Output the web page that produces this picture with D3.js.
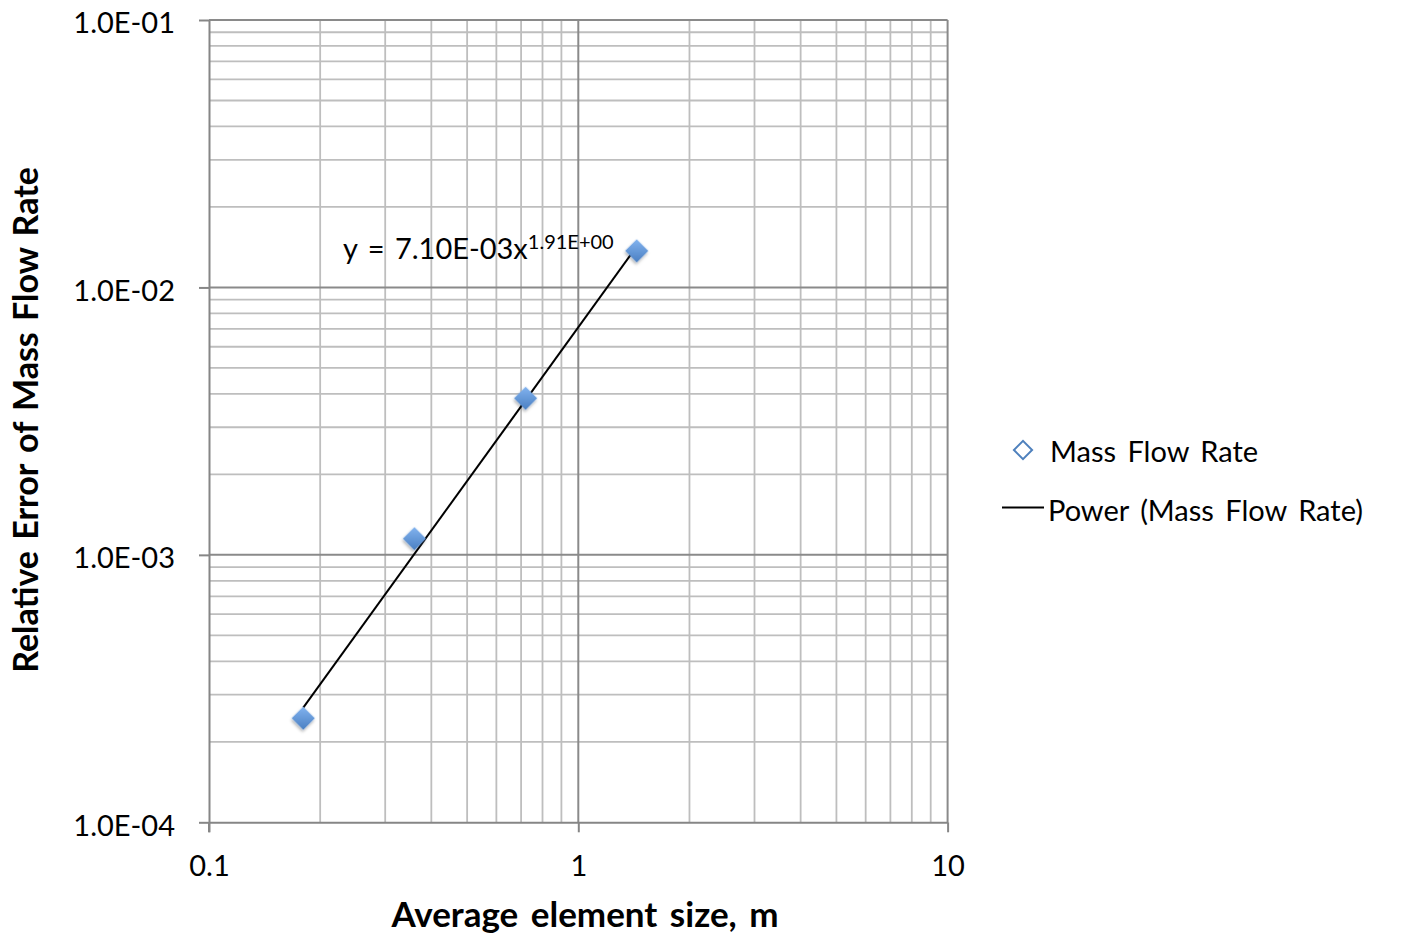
<!DOCTYPE html>
<html>
<head>
<meta charset="utf-8">
<script src="https://cdn.jsdelivr.net/npm/d3@7"></script>
<style>
  html, body { margin: 0; padding: 0; background: #ffffff; }
  svg { display: block; }
  text { font-family: Lato, "Open Sans", sans-serif; fill: #000; }
</style>
</head>
<body>
<svg id="chart" width="1405" height="937"></svg>
<script>
// ---- data ----
const elementSize = [0.18, 0.36, 0.72, 1.44];
const massFlowError = [2.45e-4, 1.15e-3, 3.85e-3, 1.37e-2];
const xTickValues = [0.1, 1, 10];
const xTickLabels = ["0.1", "1", "10"];
const yTickValues = [1e-4, 1e-3, 1e-2, 1e-1];
const yTickLabels = ["1.0E-04", "1.0E-03", "1.0E-02", "1.0E-01"];
const trendCoef = 7.10e-3;
const trendExp = 1.91;
const seriesName = "Mass Flow Rate";
const trendName = "Power (Mass Flow Rate)";
const xTitle = "Average element size, m";
const yTitle = "Relative Error of Mass Flow Rate";
const eqMain = "y = 7.10E-03x";
const eqSup = "1.91E+00";

// ---- layout ----
const svg = d3.select("#chart");
const L = 209, R = 947.6, T = 20, B = 822.3;
const x = d3.scaleLog().domain([0.1, 10]).range([L, R]);
const y = d3.scaleLog().domain([1e-4, 1e-1]).range([B, T]);

const defs = svg.append("defs");
const grad = defs.append("linearGradient").attr("id", "mk")
  .attr("x1", 0).attr("y1", 0).attr("x2", 1).attr("y2", 1);
grad.append("stop").attr("offset", "0%").attr("stop-color", "#82b3ef");
grad.append("stop").attr("offset", "100%").attr("stop-color", "#4a7fc2");
const flt = defs.append("filter").attr("id", "sh").attr("x", "-50%").attr("y", "-50%").attr("width", "200%").attr("height", "200%");
flt.append("feDropShadow").attr("dx", 1).attr("dy", 2).attr("stdDeviation", 1.5)
  .attr("flood-color", "#000").attr("flood-opacity", 0.3);

// minor gridlines
const minorX = [], minorY = [];
[0.1, 1].forEach(d => { for (let k = 2; k <= 9; k++) minorX.push(d * k); });
[1e-4, 1e-3, 1e-2].forEach(d => { for (let k = 2; k <= 9; k++) minorY.push(d * k); });

const grid = svg.append("g");
grid.selectAll(".mx").data(minorX).join("line")
  .attr("x1", d => x(d)).attr("x2", d => x(d)).attr("y1", T).attr("y2", B)
  .attr("stroke", "#bebebe").attr("stroke-width", 1.8);
grid.selectAll(".my").data(minorY).join("line")
  .attr("x1", L).attr("x2", R).attr("y1", d => y(d)).attr("y2", d => y(d))
  .attr("stroke", "#bebebe").attr("stroke-width", 1.8);
// major gridlines
grid.selectAll(".Mx").data([1, 10]).join("line")
  .attr("x1", d => x(d)).attr("x2", d => x(d)).attr("y1", T).attr("y2", B)
  .attr("stroke", "#8a8a8a").attr("stroke-width", 2);
grid.selectAll(".My").data([1e-3, 1e-2, 1e-1]).join("line")
  .attr("x1", L).attr("x2", R).attr("y1", d => y(d)).attr("y2", d => y(d))
  .attr("stroke", "#8a8a8a").attr("stroke-width", 2);

// axes
const xAxis = d3.axisBottom(x).tickValues(xTickValues)
  .tickFormat((d, i) => xTickLabels[i]).tickSize(10).tickSizeOuter(0);
const gx = svg.append("g").attr("transform", `translate(0,${B})`).call(xAxis);
gx.select(".domain").attr("stroke", "#868686").attr("stroke-width", 2);
gx.selectAll(".tick line").attr("stroke", "#868686").attr("stroke-width", 2);
gx.selectAll(".tick text").attr("y", 54).attr("dy", 0)
  .attr("font-size", 29).attr("font-family", "Lato").attr("fill", "#000");

const yAxis = d3.axisLeft(y).tickValues(yTickValues)
  .tickFormat((d, i) => yTickLabels[i]).tickSize(10).tickSizeOuter(0).tickPadding(24);
const gy = svg.append("g").attr("transform", `translate(${L},0)`).call(yAxis);
gy.select(".domain").attr("stroke", "#868686").attr("stroke-width", 2);
gy.selectAll(".tick line").attr("stroke", "#868686").attr("stroke-width", 2);
gy.selectAll(".tick text").attr("dy", "0.44em")
  .attr("font-size", 29).attr("font-family", "Lato").attr("fill", "#000");
// extend y axis line down to x tick length
svg.append("line").attr("x1", L).attr("x2", L).attr("y1", B).attr("y2", B + 10)
  .attr("stroke", "#868686").attr("stroke-width", 2);

// trend line (power fit y = a x^b)
const trendX = [d3.min(elementSize), d3.max(elementSize)];
svg.append("path")
  .datum(trendX)
  .attr("d", d3.line().x(d => x(d)).y(d => y(trendCoef * Math.pow(d, trendExp))))
  .attr("fill", "none").attr("stroke", "#000").attr("stroke-width", 2);

// markers
const diamond = d3.symbol(d3.symbolSquare, 270);
svg.append("g").selectAll("path").data(elementSize).join("path")
  .attr("d", diamond)
  .attr("transform", (d, i) => `translate(${x(d)},${y(massFlowError[i])}) rotate(45)`)
  .attr("fill", "url(#mk)").attr("filter", "url(#sh)");

// equation label
const eq = svg.append("text").attr("x", 343).attr("y", 259).attr("font-size", 29)
  .attr("word-spacing", 3);
eq.append("tspan").text(eqMain);
eq.append("tspan").attr("font-size", 20).attr("dy", -10).text(eqSup);

// legend
svg.append("path").attr("d", d3.symbol(d3.symbolSquare, 165))
  .attr("transform", "translate(1023,450) rotate(45)")
  .attr("fill", "#fff").attr("stroke", "#4f81bd").attr("stroke-width", 2);
svg.append("text").attr("x", 1050).attr("y", 462).attr("font-size", 29)
  .attr("word-spacing", 4).text(seriesName);
svg.append("line").attr("x1", 1002).attr("x2", 1044).attr("y1", 507.5).attr("y2", 507.5)
  .attr("stroke", "#000").attr("stroke-width", 1.8);
svg.append("text").attr("x", 1048).attr("y", 521).attr("font-size", 29)
  .attr("word-spacing", 4).text(trendName);

// axis titles
svg.append("text").attr("x", 585).attr("y", 927).attr("text-anchor", "middle")
  .attr("font-size", 35).attr("font-weight", "bold").attr("word-spacing", 4).text(xTitle);
svg.append("text").attr("transform", "translate(38,420) rotate(-90)")
  .attr("text-anchor", "middle").attr("font-size", 34).attr("font-weight", "bold")
  .attr("word-spacing", 3).text(yTitle);
</script>
</body>
</html>
